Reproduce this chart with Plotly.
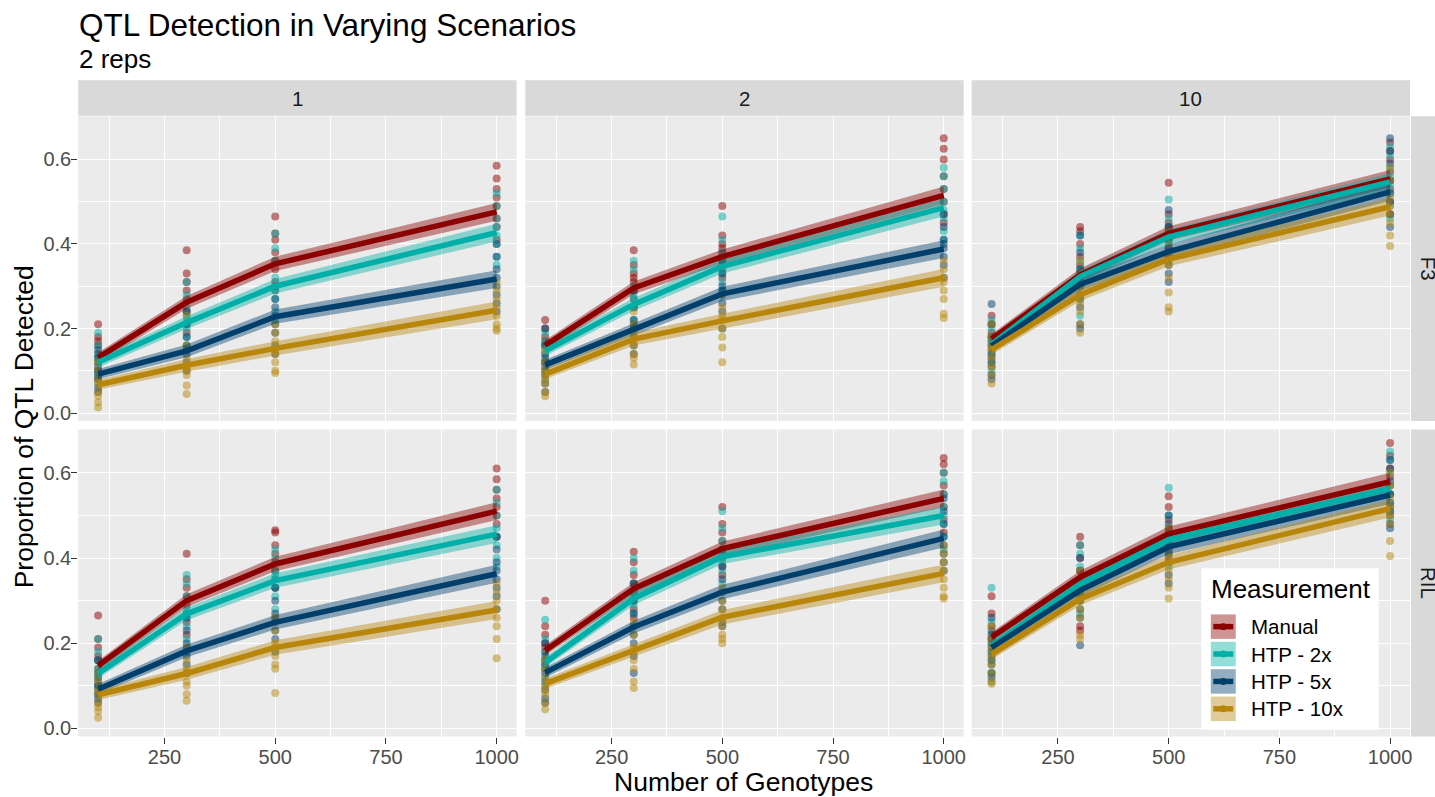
import plotly.graph_objects as go

W, H = 1435, 797

genotypes = [100, 300, 500, 1000]
measurements = ["Manual", "HTP - 2x", "HTP - 5x", "HTP - 10x"]
colors = ["#8B0000", "#00B0A8", "#003E6B", "#B8860B"]
generations = ["F3", "RIL"]
cycles = ["1", "2", "10"]
ci_half = [0.012, 0.015, 0.017, 0.021]

# mean lines: rows = Manual, HTP-2x, HTP-5x, HTP-10x ; cols = 100, 300, 500, 1000
mean_F3_1 = [[0.131, 0.262, 0.353, 0.476],
             [0.120, 0.214, 0.300, 0.427],
             [0.092, 0.147, 0.228, 0.317],
             [0.067, 0.113, 0.153, 0.243]]
mean_F3_2 = [[0.160, 0.296, 0.370, 0.515],
             [0.147, 0.257, 0.347, 0.486],
             [0.114, 0.198, 0.282, 0.388],
             [0.092, 0.175, 0.218, 0.320]]
mean_F3_10 = [[0.175, 0.327, 0.425, 0.554],
              [0.163, 0.323, 0.417, 0.547],
              [0.159, 0.304, 0.382, 0.523],
              [0.150, 0.280, 0.364, 0.488]]
mean_RIL_1 = [[0.147, 0.300, 0.386, 0.510],
              [0.129, 0.269, 0.347, 0.456],
              [0.092, 0.182, 0.249, 0.363],
              [0.079, 0.129, 0.190, 0.278]]
mean_RIL_2 = [[0.183, 0.328, 0.422, 0.540],
              [0.155, 0.305, 0.403, 0.500],
              [0.131, 0.238, 0.320, 0.446],
              [0.105, 0.183, 0.261, 0.364]]
mean_RIL_10 = [[0.214, 0.355, 0.457, 0.579],
               [0.194, 0.339, 0.443, 0.563],
               [0.190, 0.324, 0.426, 0.548],
               [0.174, 0.304, 0.390, 0.516]]

# individual simulation points: [series][genotype index] -> values
pts_F3_1 = [
    [[0.21, 0.18, 0.16, 0.14, 0.12, 0.10, 0.08, 0.17],
     [0.385, 0.33, 0.31, 0.29, 0.27, 0.24, 0.21, 0.19],
     [0.465, 0.425, 0.41, 0.38, 0.36, 0.34, 0.31, 0.29],
     [0.585, 0.555, 0.53, 0.51, 0.49, 0.46, 0.44, 0.41]],
    [[0.19, 0.16, 0.14, 0.12, 0.10, 0.09, 0.07, 0.13],
     [0.31, 0.28, 0.25, 0.22, 0.20, 0.18, 0.16, 0.23],
     [0.425, 0.39, 0.36, 0.32, 0.29, 0.27, 0.24, 0.22],
     [0.52, 0.49, 0.46, 0.44, 0.42, 0.40, 0.37, 0.35]],
    [[0.15, 0.13, 0.11, 0.09, 0.08, 0.06, 0.05, 0.10],
     [0.24, 0.21, 0.18, 0.16, 0.14, 0.12, 0.10, 0.15],
     [0.30, 0.27, 0.25, 0.23, 0.21, 0.19, 0.16, 0.14],
     [0.40, 0.37, 0.34, 0.32, 0.30, 0.28, 0.26, 0.24]],
    [[0.12, 0.10, 0.08, 0.07, 0.05, 0.04, 0.025, 0.013],
     [0.23, 0.16, 0.13, 0.11, 0.10, 0.09, 0.065, 0.045],
     [0.21, 0.19, 0.17, 0.15, 0.14, 0.12, 0.10, 0.095],
     [0.31, 0.29, 0.27, 0.25, 0.23, 0.21, 0.20, 0.195]],
]
pts_F3_2 = [
    [[0.22, 0.20, 0.18, 0.16, 0.14, 0.12, 0.10, 0.17],
     [0.385, 0.35, 0.33, 0.31, 0.29, 0.27, 0.25, 0.32],
     [0.49, 0.42, 0.40, 0.38, 0.36, 0.34, 0.32, 0.39],
     [0.65, 0.625, 0.60, 0.56, 0.53, 0.50, 0.47, 0.45]],
    [[0.19, 0.17, 0.15, 0.14, 0.12, 0.10, 0.08, 0.16],
     [0.36, 0.34, 0.30, 0.27, 0.25, 0.22, 0.20, 0.28],
     [0.465, 0.41, 0.38, 0.35, 0.33, 0.31, 0.29, 0.36],
     [0.58, 0.56, 0.53, 0.50, 0.48, 0.46, 0.43, 0.41]],
    [[0.20, 0.16, 0.13, 0.11, 0.09, 0.07, 0.05, 0.12],
     [0.29, 0.25, 0.22, 0.20, 0.18, 0.16, 0.14, 0.21],
     [0.36, 0.33, 0.30, 0.28, 0.26, 0.24, 0.20, 0.29],
     [0.47, 0.44, 0.41, 0.39, 0.37, 0.35, 0.32, 0.40]],
    [[0.15, 0.12, 0.10, 0.09, 0.08, 0.07, 0.05, 0.04],
     [0.24, 0.21, 0.19, 0.17, 0.16, 0.14, 0.13, 0.115],
     [0.28, 0.25, 0.23, 0.22, 0.20, 0.18, 0.155, 0.12],
     [0.36, 0.34, 0.32, 0.31, 0.29, 0.27, 0.235, 0.225]],
]
pts_F3_10 = [
    [[0.23, 0.21, 0.19, 0.17, 0.15, 0.13, 0.11, 0.18],
     [0.44, 0.43, 0.40, 0.37, 0.33, 0.30, 0.27, 0.35],
     [0.545, 0.47, 0.45, 0.43, 0.41, 0.39, 0.37, 0.44],
     [0.64, 0.62, 0.60, 0.57, 0.55, 0.53, 0.50, 0.47]],
    [[0.22, 0.20, 0.18, 0.16, 0.14, 0.12, 0.10, 0.17],
     [0.42, 0.39, 0.36, 0.33, 0.30, 0.27, 0.23, 0.34],
     [0.505, 0.46, 0.44, 0.42, 0.40, 0.38, 0.36, 0.43],
     [0.63, 0.61, 0.58, 0.56, 0.54, 0.52, 0.49, 0.46]],
    [[0.258, 0.21, 0.18, 0.16, 0.14, 0.12, 0.09, 0.08],
     [0.42, 0.38, 0.34, 0.31, 0.28, 0.25, 0.21, 0.20],
     [0.48, 0.44, 0.41, 0.39, 0.37, 0.35, 0.33, 0.31],
     [0.65, 0.62, 0.59, 0.55, 0.52, 0.50, 0.47, 0.44]],
    [[0.21, 0.18, 0.16, 0.15, 0.13, 0.11, 0.09, 0.07],
     [0.36, 0.33, 0.30, 0.28, 0.26, 0.24, 0.21, 0.19],
     [0.43, 0.40, 0.37, 0.35, 0.32, 0.285, 0.25, 0.24],
     [0.58, 0.55, 0.51, 0.49, 0.47, 0.45, 0.42, 0.395]],
]
pts_RIL_1 = [
    [[0.265, 0.21, 0.19, 0.16, 0.14, 0.12, 0.10, 0.17],
     [0.41, 0.35, 0.33, 0.31, 0.29, 0.27, 0.25, 0.22],
     [0.465, 0.46, 0.43, 0.41, 0.39, 0.37, 0.35, 0.33],
     [0.61, 0.585, 0.56, 0.54, 0.52, 0.50, 0.48, 0.45]],
    [[0.21, 0.18, 0.16, 0.14, 0.12, 0.10, 0.08, 0.13],
     [0.36, 0.34, 0.31, 0.28, 0.26, 0.24, 0.21, 0.27],
     [0.42, 0.40, 0.37, 0.35, 0.33, 0.31, 0.28, 0.36],
     [0.56, 0.53, 0.50, 0.47, 0.45, 0.43, 0.40, 0.38]],
    [[0.16, 0.13, 0.11, 0.09, 0.08, 0.07, 0.06, 0.10],
     [0.26, 0.23, 0.20, 0.18, 0.17, 0.15, 0.13, 0.19],
     [0.33, 0.30, 0.27, 0.25, 0.23, 0.21, 0.18, 0.26],
     [0.45, 0.42, 0.39, 0.37, 0.35, 0.33, 0.31, 0.28]],
    [[0.13, 0.11, 0.09, 0.08, 0.06, 0.05, 0.04, 0.025],
     [0.19, 0.16, 0.14, 0.13, 0.11, 0.10, 0.08, 0.065],
     [0.26, 0.23, 0.20, 0.19, 0.17, 0.15, 0.14, 0.083],
     [0.34, 0.32, 0.30, 0.28, 0.26, 0.24, 0.21, 0.165]],
]
pts_RIL_2 = [
    [[0.30, 0.24, 0.22, 0.20, 0.18, 0.16, 0.14, 0.19],
     [0.415, 0.39, 0.36, 0.34, 0.32, 0.30, 0.28, 0.26],
     [0.52, 0.48, 0.46, 0.44, 0.42, 0.40, 0.38, 0.36],
     [0.635, 0.62, 0.60, 0.57, 0.55, 0.52, 0.49, 0.46]],
    [[0.255, 0.21, 0.18, 0.16, 0.14, 0.12, 0.10, 0.15],
     [0.40, 0.37, 0.34, 0.31, 0.29, 0.27, 0.24, 0.32],
     [0.51, 0.47, 0.44, 0.41, 0.39, 0.37, 0.34, 0.42],
     [0.60, 0.58, 0.55, 0.52, 0.50, 0.48, 0.45, 0.42]],
    [[0.20, 0.17, 0.15, 0.13, 0.11, 0.09, 0.07, 0.06],
     [0.34, 0.30, 0.27, 0.24, 0.22, 0.20, 0.17, 0.13],
     [0.42, 0.38, 0.35, 0.32, 0.30, 0.28, 0.25, 0.24],
     [0.54, 0.51, 0.48, 0.45, 0.43, 0.41, 0.39, 0.37]],
    [[0.16, 0.14, 0.12, 0.10, 0.09, 0.08, 0.06, 0.045],
     [0.25, 0.22, 0.19, 0.18, 0.16, 0.14, 0.11, 0.095],
     [0.33, 0.30, 0.28, 0.26, 0.24, 0.22, 0.21, 0.20],
     [0.43, 0.41, 0.39, 0.37, 0.35, 0.33, 0.31, 0.305]],
]
pts_RIL_10 = [
    [[0.31, 0.27, 0.24, 0.22, 0.20, 0.18, 0.16, 0.21],
     [0.45, 0.43, 0.40, 0.37, 0.34, 0.31, 0.24, 0.23],
     [0.545, 0.52, 0.49, 0.46, 0.44, 0.42, 0.40, 0.47],
     [0.67, 0.64, 0.61, 0.59, 0.57, 0.55, 0.52, 0.50]],
    [[0.33, 0.25, 0.22, 0.20, 0.18, 0.16, 0.13, 0.11],
     [0.43, 0.41, 0.38, 0.35, 0.32, 0.30, 0.27, 0.34],
     [0.565, 0.50, 0.47, 0.45, 0.43, 0.41, 0.38, 0.44],
     [0.65, 0.63, 0.60, 0.57, 0.55, 0.53, 0.51, 0.49]],
    [[0.26, 0.23, 0.21, 0.19, 0.17, 0.15, 0.13, 0.12],
     [0.40, 0.37, 0.34, 0.32, 0.30, 0.28, 0.26, 0.195],
     [0.50, 0.48, 0.45, 0.43, 0.41, 0.39, 0.36, 0.34],
     [0.63, 0.61, 0.58, 0.55, 0.53, 0.51, 0.48, 0.47]],
    [[0.24, 0.21, 0.19, 0.17, 0.15, 0.13, 0.11, 0.105],
     [0.37, 0.34, 0.32, 0.30, 0.28, 0.26, 0.22, 0.21],
     [0.47, 0.44, 0.41, 0.39, 0.37, 0.35, 0.33, 0.305],
     [0.60, 0.57, 0.54, 0.52, 0.50, 0.48, 0.44, 0.405]],
]

means = {("F3", "1"): mean_F3_1, ("F3", "2"): mean_F3_2, ("F3", "10"): mean_F3_10,
         ("RIL", "1"): mean_RIL_1, ("RIL", "2"): mean_RIL_2, ("RIL", "10"): mean_RIL_10}
points = {("F3", "1"): pts_F3_1, ("F3", "2"): pts_F3_2, ("F3", "10"): pts_F3_10,
          ("RIL", "1"): pts_RIL_1, ("RIL", "2"): pts_RIL_2, ("RIL", "10"): pts_RIL_10}


def rgba(hex_color, a):
    h = hex_color.lstrip("#")
    r, g, b = int(h[0:2], 16), int(h[2:4], 16), int(h[4:6], 16)
    return f"rgba({r},{g},{b},{a})"


def px(x):
    return x / W


def py(y):
    return 1 - y / H


x_dom = [(78.3, 517.3), (526.0, 965.0), (973.0, 1412.0)]
y_dom = [(116.7, 422.7), (431.0, 739.3)]
x_range = [55, 1045]
y_range = [-0.019, 0.702]
FONT = "Liberation Sans, Arial"

fig = go.Figure()
layout_axes = {}

for r, gen in enumerate(generations):
    for c, cyc in enumerate(cycles):
        i = r * 3 + c + 1
        xa = "x" if i == 1 else f"x{i}"
        ya = "y" if i == 1 else f"y{i}"
        m = means[(gen, cyc)]
        p = points[(gen, cyc)]
        # points
        for s in range(4):
            xs, ys = [], []
            for k, g in enumerate(genotypes):
                for v in p[s][k]:
                    xs.append(g)
                    ys.append(v)
            fig.add_trace(go.Scatter(x=xs, y=ys, mode="markers", xaxis=xa, yaxis=ya,
                                     marker=dict(size=8, color=rgba(colors[s], 0.5), line=dict(width=0)),
                                     showlegend=False, hoverinfo="skip"))
        # ribbons
        for s in range(4):
            up = [m[s][k] + ci_half[k] for k in range(4)]
            lo = [m[s][k] - ci_half[k] for k in range(4)]
            fig.add_trace(go.Scatter(x=genotypes + genotypes[::-1], y=up + lo[::-1],
                                     mode="lines", fill="toself", fillcolor=rgba(colors[s], 0.42),
                                     line=dict(width=0), xaxis=xa, yaxis=ya,
                                     showlegend=False, hoverinfo="skip"))
        # lines
        for s in range(4):
            fig.add_trace(go.Scatter(x=genotypes, y=m[s], mode="lines", xaxis=xa, yaxis=ya,
                                     line=dict(color=colors[s], width=5.5),
                                     name=measurements[s], showlegend=False))

        xd = x_dom[c]
        yd = y_dom[r]
        bottom = (r == 1)
        left = (c == 0)
        xkey = "xaxis" if i == 1 else f"xaxis{i}"
        ykey = "yaxis" if i == 1 else f"yaxis{i}"
        layout_axes[xkey] = dict(
            domain=[px(xd[0]), px(xd[1])], anchor=ya, range=x_range,
            tickvals=[250, 500, 750, 1000], showticklabels=bottom,
            ticks="outside" if bottom else "", ticklen=6, tickwidth=1.3, tickcolor="#333333",
            ticklabelstandoff=-4,
            tickfont=dict(size=20, color="#4D4D4D", family=FONT),
            showgrid=True, gridcolor="white", gridwidth=1.4,
            minor=dict(tickvals=[125, 375, 625, 875], showgrid=True, gridcolor="white", gridwidth=0.6),
            zeroline=False, showline=False, fixedrange=True)
        layout_axes[ykey] = dict(
            domain=[py(yd[1]), py(yd[0])], anchor=xa, range=y_range,
            tickvals=[0, 0.2, 0.4, 0.6], ticktext=["0.0", "0.2", "0.4", "0.6"],
            showticklabels=left, ticks="outside" if left else "", ticklen=6, tickwidth=1.3,
            tickcolor="#333333", ticklabelstandoff=-4,
            tickfont=dict(size=20, color="#4D4D4D", family=FONT),
            showgrid=True, gridcolor="white", gridwidth=1.4,
            minor=dict(tickvals=[0.1, 0.3, 0.5, 0.7], showgrid=True, gridcolor="white", gridwidth=0.6),
            zeroline=False, showline=False, fixedrange=True)

shapes = []
annotations = []

# top strips
for c, cyc in enumerate(cycles):
    xd = x_dom[c]
    shapes.append(dict(type="rect", xref="paper", yref="paper",
                       x0=px(xd[0]), x1=px(xd[1]), y0=py(116.3), y1=py(80.5),
                       fillcolor="#D9D9D9", line=dict(width=0), layer="below"))
    annotations.append(dict(text=cyc, xref="paper", yref="paper", x=px((xd[0] + xd[1]) / 2),
                            y=py(98.5), xanchor="center", yanchor="middle", showarrow=False,
                            font=dict(size=20.5, color="#1A1A1A", family=FONT)))
# right strips (the reference image is cropped through these labels)
for r, gen in enumerate(generations):
    yd = y_dom[r]
    shapes.append(dict(type="rect", xref="paper", yref="paper",
                       x0=px(1413.0), x1=px(1440), y0=py(yd[1]), y1=py(yd[0]),
                       fillcolor="#D9D9D9", line=dict(width=0), layer="below"))
    annotations.append(dict(text=gen, xref="paper", yref="paper", x=px(1430),
                            y=py((yd[0] + yd[1]) / 2), xanchor="center", yanchor="middle",
                            textangle=90, showarrow=False,
                            font=dict(size=20.5, color="#1A1A1A", family=FONT)))

# titles
annotations.append(dict(text="QTL Detection in Varying Scenarios", xref="paper", yref="paper",
                        x=px(77), y=py(25), xanchor="left", yanchor="middle", showarrow=False,
                        font=dict(size=31.5, color="black", family=FONT)))
annotations.append(dict(text="2 reps", xref="paper", yref="paper",
                        x=px(77), y=py(59), xanchor="left", yanchor="middle", showarrow=False,
                        font=dict(size=26, color="black", family=FONT)))
annotations.append(dict(text="Number of Genotypes", xref="paper", yref="paper",
                        x=px(745), y=py(784.5), xanchor="center", yanchor="middle", showarrow=False,
                        font=dict(size=26.5, color="black", family=FONT)))
annotations.append(dict(text="Proportion of QTL Detected", xref="paper", yref="paper",
                        x=px(24), y=py(428), xanchor="center", yanchor="middle", textangle=-90,
                        showarrow=False, font=dict(size=26.5, color="black", family=FONT)))

# legend (ggplot style keys)
shapes.append(dict(type="rect", xref="paper", yref="paper", x0=px(1203), x1=px(1380.5),
                   y0=py(732.5), y1=py(570.5), fillcolor="white", line=dict(width=0), layer="above"))
annotations.append(dict(text="Measurement", xref="paper", yref="paper", x=px(1211), y=py(591.5),
                        xanchor="left", yanchor="middle", showarrow=False,
                        font=dict(size=26, color="black", family=FONT)))
for s, name in enumerate(measurements):
    yc = 629 + s * 27.5
    shapes.append(dict(type="rect", xref="paper", yref="paper", x0=px(1212.5), x1=px(1237.5),
                       y0=py(yc + 12.3), y1=py(yc - 12.3), fillcolor=rgba(colors[s], 0.42),
                       line=dict(width=0), layer="above"))
    shapes.append(dict(type="line", xref="paper", yref="paper", x0=px(1215), x1=px(1235),
                       y0=py(yc), y1=py(yc), line=dict(color=colors[s], width=5.5), layer="above"))
    shapes.append(dict(type="circle", xref="paper", yref="paper", x0=px(1221.5), x1=px(1228.5),
                       y0=py(yc + 3.5), y1=py(yc - 3.5), fillcolor=colors[s],
                       line=dict(width=0), layer="above"))
    annotations.append(dict(text=name, xref="paper", yref="paper", x=px(1251), y=py(yc),
                            xanchor="left", yanchor="middle", showarrow=False,
                            font=dict(size=20.5, color="black", family=FONT)))

fig.update_layout(
    width=W, height=H, margin=dict(l=0, r=0, t=0, b=0),
    paper_bgcolor="white", plot_bgcolor="#EBEBEB",
    showlegend=False, shapes=shapes, annotations=annotations,
    font=dict(family=FONT), **layout_axes)

fig.write_html("out.html")
